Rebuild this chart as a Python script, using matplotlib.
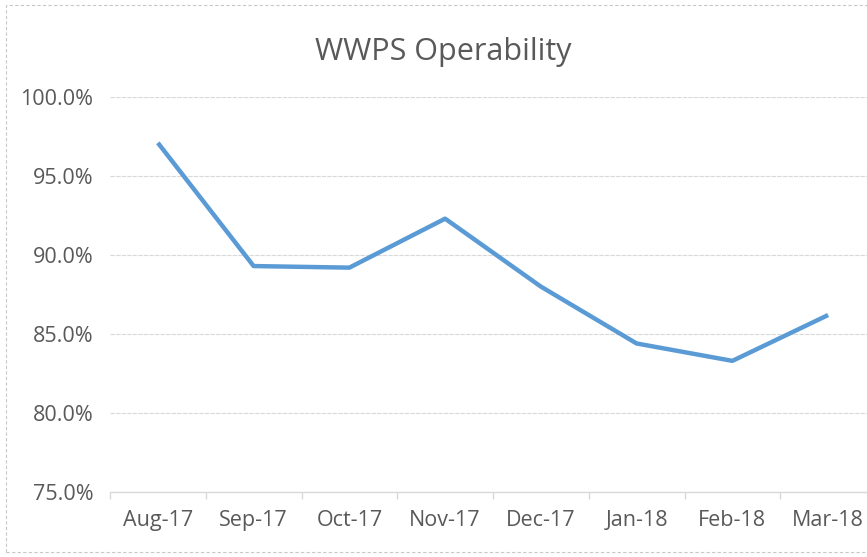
import matplotlib.pyplot as plt
from matplotlib.patches import Rectangle
from matplotlib.ticker import FuncFormatter, FixedLocator

months = ['Aug-17', 'Sep-17', 'Oct-17', 'Nov-17', 'Dec-17', 'Jan-18', 'Feb-18', 'Mar-18']
operability = [97.1, 89.3, 89.2, 92.3, 88.0, 84.4, 83.3, 86.2]

TEXT = '#595959'
GRID = '#d9d9d9'
LINE = '#5b9bd5'

plt.rcParams['font.family'] = ['Open Sans', 'DejaVu Sans']

fig = plt.figure(figsize=[8.67, 5.57], dpi=100)
# chart frame (right side is cut off in the original)
fig.patches.append(Rectangle((6 / 867, 5 / 557), 1.0, 547 / 557, transform=fig.transFigure,
                             fill=False, edgecolor='#c8c8c8', linewidth=0.8, linestyle=(0, (3, 2))))

ax = fig.add_axes([110 / 867, 1 - 492 / 557, 766 / 867, 395 / 557])
x = list(range(len(months)))
ax.plot(x, operability, color=LINE, linewidth=3.2, solid_capstyle='butt', zorder=3)

ax.set_xlim(-0.5, len(months) - 0.5)
ax.set_ylim(75, 100)
ax.set_yticks([75, 80, 85, 90, 95, 100])
ax.yaxis.set_major_formatter(FuncFormatter(lambda v, p: '%.1f%%' % v))
ax.set_xticks(x)
ax.set_xticklabels(months)
ax.xaxis.set_minor_locator(FixedLocator([i - 0.5 for i in range(len(months) + 1)]))

ax.grid(axis='y', color=GRID, linewidth=0.8, linestyle=(0, (4, 1)))
for side in ['top', 'right', 'left']:
    ax.spines[side].set_visible(False)
ax.spines['bottom'].set_color(GRID)
ax.spines['bottom'].set_linewidth(1.0)

ax.tick_params(axis='y', length=0, pad=12, labelsize=15.5, labelcolor=TEXT)
ax.tick_params(axis='x', which='major', length=0, pad=13, labelsize=15.5, labelcolor=TEXT)
ax.tick_params(axis='x', which='minor', length=5, color=GRID, width=1.0)

fig.text(443 / 867, 1 - 52 / 557, 'WWPS Operability', ha='center', va='center',
         fontsize=22, color=TEXT)

plt.savefig('out.png', dpi=100)
